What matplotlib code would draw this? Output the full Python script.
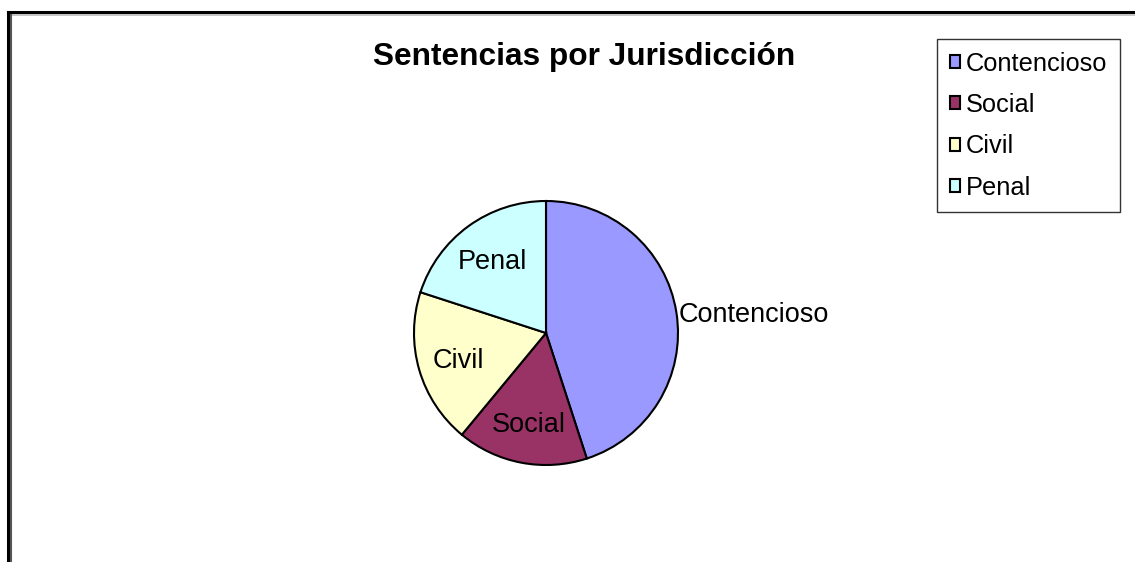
import matplotlib.pyplot as plt
from matplotlib.lines import Line2D
import numpy as np

plt.rcParams['font.family'] = ['Liberation Sans', 'DejaVu Sans']

categories = ["Contencioso", "Social", "Civil", "Penal"]
values = [45, 16, 19, 20]
colors = ["#9999FF", "#993366", "#FFFFCC", "#CCFFFF"]

W, H = 1135, 562
fig = plt.figure(figsize=(W / 100, H / 100), dpi=100)
fig.patch.set_facecolor("white")

# pie axes: square box in pixels, centre (546, 333), radius 132
cx, cy, r = 546, 333, 132
ax = fig.add_axes([(cx - r) / W, (H - cy - r) / H, 2 * r / W, 2 * r / H])
wedges, texts = ax.pie(values, labels=categories, colors=colors, startangle=90,
                       counterclock=False, labeldistance=0.69,
                       wedgeprops=dict(edgecolor="black", linewidth=1.5),
                       textprops=dict(fontsize=19.5, ha="center",
                                      va="center_baseline"))
ax.set_xlim(-1, 1)
ax.set_ylim(-1, 1)
ax.axis("off")

# first label sits outside the pie
w0 = wedges[0]
ang = np.deg2rad((w0.theta1 + w0.theta2) / 2)
texts[0].set_position((1.02 * np.cos(ang), 1.02 * np.sin(ang)))
texts[0].set_ha("left")

fig.text(584 / W, 1 - 57 / H, "Sentencias por Jurisdicción", fontsize=22.8,
         fontweight="bold", ha="center", va="center")

leg = fig.legend(wedges, categories, loc="upper left",
                 bbox_to_anchor=(937 / W, 1 - 39 / H), borderaxespad=0,
                 fontsize=18.3, fancybox=False, edgecolor="black",
                 handlelength=0.4, handleheight=0.4, handletextpad=0.22,
                 labelspacing=0.68, borderpad=0.5)
leg.get_frame().set_linewidth(1.0)

# window-like frame lines
def px(x0, y0, x1, y1, c, lw):
    fig.add_artist(Line2D([x0 / W, x1 / W], [1 - y0 / H, 1 - y1 / H],
                          transform=fig.transFigure, color=c, linewidth=lw))

px(8, 12, W, 12, "black", 2.2)
px(8, 12, 8, H, "black", 2.2)
px(11, 14.5, W, 14.5, "#bbbbbb", 1.2)
px(11, 14.5, 11, H, "#555555", 1.5)

fig.savefig("out.png", dpi=100)
